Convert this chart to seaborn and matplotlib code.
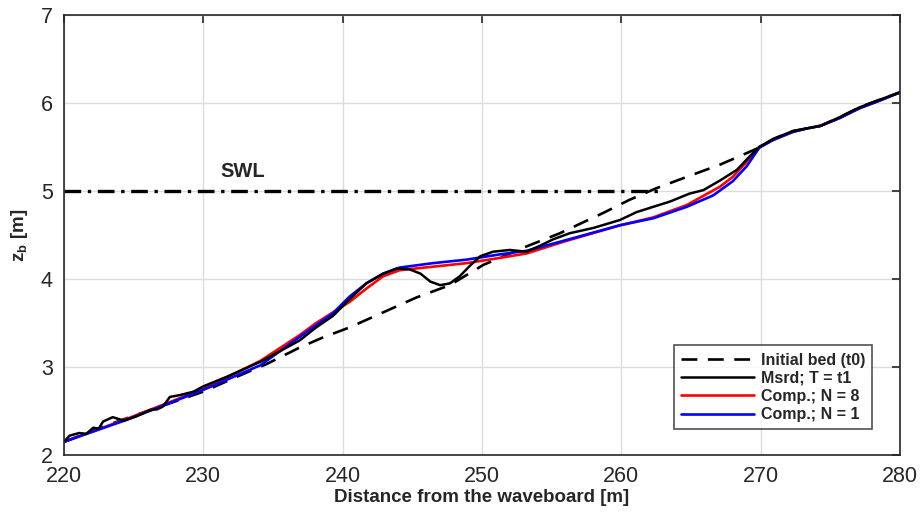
import numpy as np
import pandas as pd
import matplotlib
matplotlib.use("Agg")
import matplotlib.pyplot as plt
import seaborn as sns

# ---- data ----
init_x = [220, 224, 230, 233, 234.5, 236.9, 238.5, 240.5, 242.9, 245.3, 247.7, 250.1, 253.2, 255.6, 258.7, 260.6, 262.5,
          264.7, 267.1, 269.0, 270, 270.9, 272.3, 273.3, 274.3, 275.7, 277.1, 278.6, 280]
init_z = [2.15, 2.39, 2.72, 2.93, 3.03, 3.22, 3.33, 3.45, 3.62, 3.79, 3.93, 4.16, 4.37, 4.52, 4.75, 4.90, 5.03,
          5.16, 5.30, 5.43, 5.50, 5.59, 5.68, 5.71, 5.74, 5.84, 5.95, 6.04, 6.12]

msrd_x = [220, 220.4, 221.1, 221.6, 222.1, 222.5, 222.8, 223.5, 224.3, 225.2, 226.2, 226.7, 227.1, 227.6, 228.3,
          229.3, 230.0, 231.7, 234.1, 236.9, 238.1, 239.3, 240.5, 241.7, 242.9, 243.9, 244.8, 245.6, 246.3,
          247.0, 247.7, 248.4, 249.2, 249.9, 250.8, 252.0, 253.2, 254.2, 255.1, 256.3, 258.0, 259.9, 261.1,
          262.3, 263.5, 264.9, 265.9, 267.1, 268.3, 269.2, 269.9, 270.9, 272.3, 273.3, 274.3, 275.7,
          277.1, 278.6, 280]
msrd_z = [2.15, 2.22, 2.25, 2.24, 2.31, 2.30, 2.38, 2.43, 2.39, 2.44, 2.51, 2.52, 2.55, 2.66, 2.68,
          2.72, 2.78, 2.89, 3.06, 3.30, 3.45, 3.58, 3.77, 3.95, 4.06, 4.12, 4.11, 4.06, 3.97,
          3.93, 3.95, 4.03, 4.16, 4.26, 4.31, 4.33, 4.31, 4.38, 4.45, 4.52, 4.58, 4.67, 4.76,
          4.82, 4.88, 4.97, 5.01, 5.12, 5.24, 5.39, 5.50, 5.59, 5.68, 5.71, 5.74, 5.84,
          5.95, 6.04, 6.12]

n8_x = [220, 224.5, 230, 234.1, 236.9, 238.1, 240.5, 241.7, 242.9, 244.1, 246.5, 248.9, 251.3, 253.2, 256, 259.9,
        262.3, 264.7, 267.1, 268.0, 269.0, 269.9, 270.9, 272.3, 273.3, 274.3, 275.7, 277.1, 278.6, 280]
n8_z = [2.15, 2.41, 2.75, 3.07, 3.36, 3.50, 3.74, 3.89, 4.03, 4.10, 4.14, 4.18, 4.24, 4.29, 4.43, 4.61,
        4.70, 4.84, 5.05, 5.16, 5.33, 5.50, 5.58, 5.67, 5.71, 5.74, 5.83, 5.94, 6.03, 6.12]

n1_x = [220, 224.5, 230, 234.1, 236.9, 239.3, 240.5, 241.7, 242.9, 244.1, 246.5, 248.9, 251.3, 253.2, 256, 259.9,
        262.3, 264.7, 266.6, 268.0, 269.0, 269.9, 270.9, 272.3, 273.3, 274.3, 275.7, 277.1, 278.6, 280]
n1_z = [2.15, 2.40, 2.74, 3.02, 3.34, 3.61, 3.80, 3.95, 4.06, 4.13, 4.18, 4.22, 4.28, 4.32, 4.44, 4.61,
        4.69, 4.82, 4.95, 5.11, 5.28, 5.49, 5.58, 5.67, 5.71, 5.74, 5.83, 5.94, 6.03, 6.12]

swl_x = [220, 263]
swl_z = [5, 5]

labels = ["Initial bed (t0)", "Msrd; T = t1", "Comp.; N = 8", "Comp.; N = 1"]
xticks = [220, 230, 240, 250, 260, 270, 280]
yticks = [2, 3, 4, 5, 6, 7]

# ---- plot ----
sns.set_style("white")
plt.rcParams["font.family"] = ["Liberation Sans", "DejaVu Sans"]
plt.rcParams["mathtext.fontset"] = "custom"
plt.rcParams["mathtext.rm"] = "Liberation Sans"
plt.rcParams["mathtext.bf"] = "Liberation Sans:bold"

fig = plt.figure(figsize=(9.22, 5.16), dpi=100)
ax = fig.add_axes([0.0694, 0.1182, 0.9066, 0.8528])

sns.lineplot(x=swl_x, y=swl_z, ax=ax, color="black", lw=2.4, linestyle=(0, (5, 2, 1, 2)),
             sort=False, estimator=None)
sns.lineplot(x=init_x, y=init_z, ax=ax, color="black", lw=1.9, linestyle=(0, (6, 4)),
             sort=False, estimator=None, label=labels[0])
sns.lineplot(x=n8_x, y=n8_z, ax=ax, color="#ff0000", lw=1.9,
             sort=False, estimator=None, label=labels[2])
sns.lineplot(x=n1_x, y=n1_z, ax=ax, color="#0000ff", lw=1.9,
             sort=False, estimator=None, label=labels[3])
sns.lineplot(x=msrd_x, y=msrd_z, ax=ax, color="black", lw=1.8,
             sort=False, estimator=None, label=labels[1])
ax.text(232.8, 5.22, "SWL", fontsize=14.5, fontweight="bold", ha="center", va="center")

ax.set_xlim(220, 280)
ax.set_ylim(2, 7)
ax.set_xticks(xticks)
ax.set_yticks(yticks)
ax.tick_params(direction="in", length=6, width=1.2, top=True, right=True,
               labelsize=15.5, colors="#262626", pad=8)
ax.grid(True, color="#dcdcdc", lw=1)
for s in ax.spines.values():
    s.set_color("#262626")
    s.set_linewidth(1.2)
ax.set_xlabel("Distance from the waveboard [m]", fontsize=13.5, fontweight="bold", labelpad=1)
ax.set_ylabel(r"$\mathbf{z_b}$ [m]", fontsize=13.5, fontweight="bold", labelpad=8)

handles, labs = ax.get_legend_handles_labels()
order = [labs.index(l) for l in labels]
leg = ax.legend([handles[i] for i in order], [labs[i] for i in order],
                loc="lower right", bbox_to_anchor=(0.9765, 0.04), frameon=True, fancybox=False,
                edgecolor="#262626", fontsize=11.5, handlelength=4.6, handletextpad=0.4,
                borderpad=0.45, labelspacing=0.2)
leg.get_frame().set_linewidth(1.2)
for t in leg.get_texts():
    t.set_fontweight("bold")

fig.savefig("out.png", dpi=100)
